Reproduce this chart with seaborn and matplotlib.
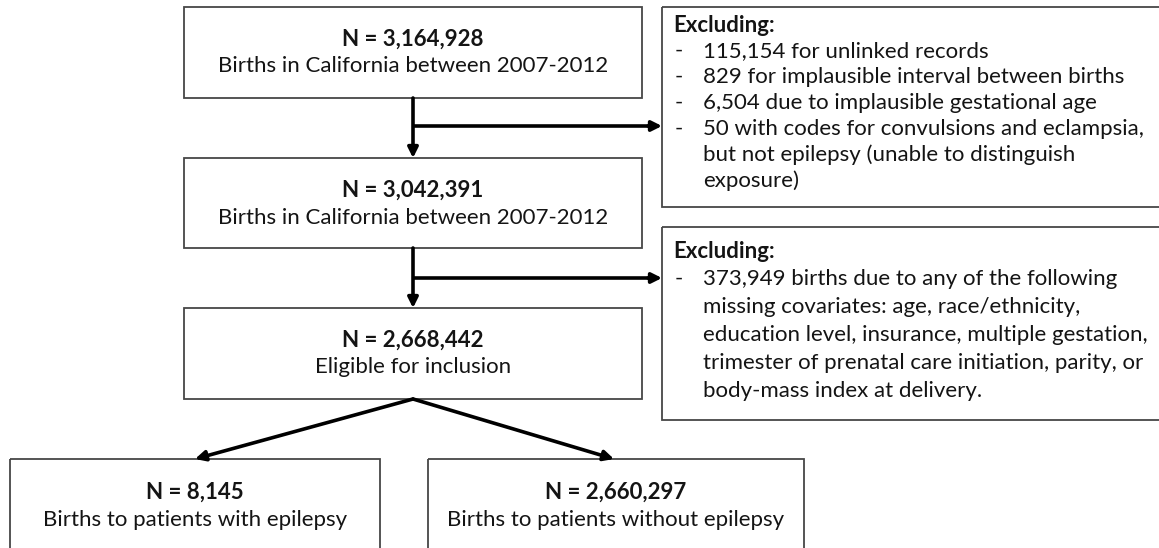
import matplotlib
matplotlib.use("Agg")
import matplotlib.pyplot as plt
import matplotlib.patches as mpatches
import seaborn as sns

# ── Data ─────────────────────────────────────────────────────
counts = ["3,164,928", "3,042,391", "2,668,442", "8,145", "2,660,297"]
descriptions = [
    "Births in California between 2007-2012",
    "Births in California between 2007-2012",
    "Eligible for inclusion",
    "Births to patients with epilepsy",
    "Births to patients without epilepsy",
]
excl_title = "Excluding:"
excl_1 = [
    ("-", "115,154 for unlinked records"),
    ("-", "829 for implausible interval between births"),
    ("-", "6,504 due to implausible gestational age"),
    ("-", "50 with codes for convulsions and eclampsia,"),
    ("", "but not epilepsy (unable to distinguish"),
    ("", "exposure)"),
]
excl_2 = [
    ("-", "373,949 births due to any of the following"),
    ("", "missing covariates: age, race/ethnicity,"),
    ("", "education level, insurance, multiple gestation,"),
    ("", "trimester of prenatal care initiation, parity, or"),
    ("", "body-mass index at delivery."),
]

# ── Layout (pixels, y downwards) ─────────────────────────────
W, H = 1159, 548
main_boxes = [  # x0, y0, x1, y1
    (184, 7, 642, 98),
    (184, 158, 642, 248),
    (184, 308, 642, 399),
    (10, 459, 380, 580),
    (428, 459, 804, 580),
]
text_y = [(39, 66), (190, 218), (340, 367), (492, 520), (492, 520)]
side_boxes = [(662, 7, 1170, 207), (662, 227, 1170, 420)]
side_first_y = [25, 251]
side_step = [26, 28]
branch_y = [126, 278]
spine_x = 413
split_tips = [195, 614]

sns.set_theme(style="white")
plt.rcParams["font.family"] = ["Lato", "DejaVu Sans"]

fig = plt.figure(figsize=(W / 100, H / 100), dpi=100)
ax = fig.add_axes([0, 0, 1, 1])
ax.set_xlim(0, W)
ax.set_ylim(H, 0)
ax.axis("off")

BORDER = "#474747"
INK = "#141414"
FS = 16


def box(x0, y0, x1, y1):
    ax.add_patch(mpatches.Rectangle((x0, y0), x1 - x0, y1 - y0, fill=False,
                                    edgecolor=BORDER, lw=1.3))


def arrow(x0, y0, x1, y1):
    ax.annotate("", xy=(x1, y1), xytext=(x0, y0),
                arrowprops=dict(arrowstyle="-|>", lw=2.6, color="black",
                                mutation_scale=15, shrinkA=0, shrinkB=0))


# main boxes
for (x0, y0, x1, y1), n, desc, (ty1, ty2) in zip(main_boxes, counts, descriptions, text_y):
    box(x0, y0, x1, y1)
    cx = (x0 + x1) / 2
    ax.text(cx, ty1, f"N = {n}", ha="center", va="center", fontsize=FS,
            fontweight="bold", color=INK)
    ax.text(cx, ty2, desc, ha="center", va="center", fontsize=FS, color=INK)

# side (exclusion) boxes
for (x0, y0, x1, y1), lines, fy, step in zip(side_boxes, [excl_1, excl_2], side_first_y, side_step):
    box(x0, y0, x1, y1)
    ax.text(x0 + 11, fy, excl_title, ha="left", va="center", fontsize=FS,
            fontweight="bold", color=INK)
    for i, (bullet, line) in enumerate(lines):
        y = fy + step * (i + 1)
        if bullet:
            ax.text(x0 + 13, y, bullet, ha="left", va="center", fontsize=FS, color=INK)
        ax.text(x0 + 41, y, line, ha="left", va="center", fontsize=FS, color=INK)

# vertical flow arrows with branches to exclusion boxes
for i in range(2):
    top = main_boxes[i][3]
    bottom = main_boxes[i + 1][1]
    arrow(spine_x, top, spine_x, bottom)
    ax.plot([spine_x, side_boxes[i][0] - 10], [branch_y[i], branch_y[i]],
            color="black", lw=2.6, solid_capstyle="butt")
    arrow(side_boxes[i][0] - 14, branch_y[i], side_boxes[i][0], branch_y[i])

# split into the two groups
apex_y = main_boxes[2][3]
for tip_x in split_tips:
    arrow(spine_x, apex_y, tip_x, main_boxes[3][1])

fig.savefig("out.png", dpi=100, facecolor="white")
